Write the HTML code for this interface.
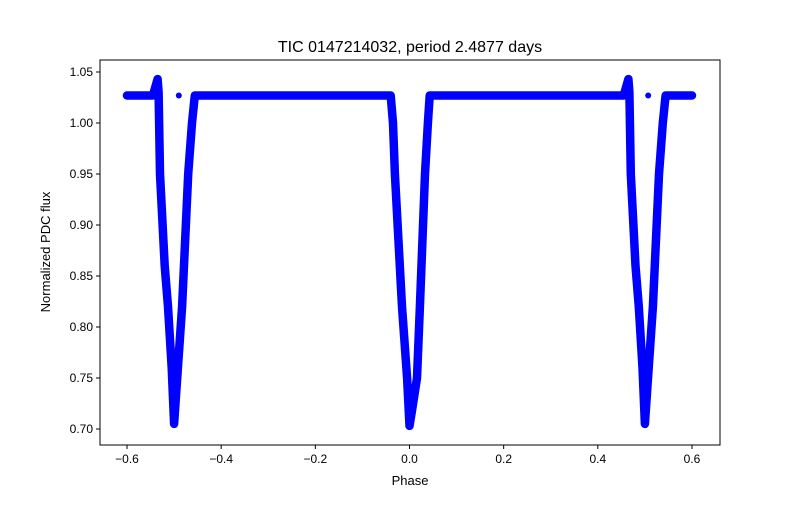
<!DOCTYPE html>
<html><head><meta charset="utf-8"><style>
body{margin:0;background:#fff}
svg text{font-family:"Liberation Sans","DejaVu Sans",sans-serif;fill:#000}
</style></head><body>
<svg id="chart" width="800" height="500" xmlns="http://www.w3.org/2000/svg">
<rect width="800" height="500" fill="#fff"/>
<g id="marks"></g>
<g id="axes"></g>
<text x="410" y="52" text-anchor="middle" font-size="16">TIC 0147214032, period 2.4877 days</text>
<text x="410" y="485" text-anchor="middle" font-size="13">Phase</text>
<text transform="translate(50,252) rotate(-90)" text-anchor="middle" font-size="13">Normalized PDC flux</text>
</svg>
<script>
const phase=[-0.6,-0.545,-0.537,-0.535,-0.533,-0.53,-0.52,-0.513,-0.505,-0.5,-0.495,-0.483,-0.47,-0.462,-0.456,-0.3,-0.1,-0.04,-0.035,-0.031,-0.016,-0.005,0,0.006,0.016,0.022,0.033,0.039,0.043,0.1,0.3,0.455,0.463,0.465,0.467,0.47,0.48,0.487,0.495,0.5,0.505,0.517,0.53,0.538,0.544,0.6];
const flux=[1.027,1.027,1.04,1.043,1.03,0.95,0.86,0.82,0.76,0.705,0.74,0.82,0.95,1.0,1.027,1.027,1.027,1.027,1.0,0.95,0.82,0.75,0.703,0.72,0.75,0.82,0.95,1.0,1.027,1.027,1.027,1.027,1.04,1.043,1.03,0.95,0.86,0.82,0.76,0.705,0.74,0.82,0.95,1.0,1.027,1.027];
const outPhase=[-0.49,0.507];
const outFlux=[1.027,1.027];
const xTicks=[-0.6,-0.4,-0.2,0.0,0.2,0.4,0.6];
const xTickLabels=["−0.6","−0.4","−0.2","0.0","0.2","0.4","0.6"];
const yTicks=[0.70,0.75,0.80,0.85,0.90,0.95,1.00,1.05];
const yTickLabels=["0.70","0.75","0.80","0.85","0.90","0.95","1.00","1.05"];
const L=100,R=720,T=60,B=445;
const xs=v=>409.5+v*470.8;
const ys=v=>72+(1.05-v)/0.05*51;
const NS="http://www.w3.org/2000/svg";
const marks=document.getElementById('marks'),axes=document.getElementById('axes');
function mk(t,a,p){const e=document.createElementNS(NS,t);for(const k in a)e.setAttribute(k,a[k]);p.appendChild(e);return e;}
const d=phase.map((p,i)=>(i?'L':'M')+xs(p).toFixed(1)+' '+ys(flux[i]).toFixed(1)).join(' ');
const path=mk('path',{d:d,fill:'none',stroke:'#0000ff','stroke-width':8.5,'stroke-linejoin':'round','stroke-linecap':'round'},marks);


outPhase.forEach((p,i)=>{const c=mk('circle',{cx:xs(p),cy:ys(outFlux[i]),r:3,fill:'#0000ff'},marks);

});
const fr=mk('rect',{x:L,y:T,width:R-L,height:B-T,fill:'none',stroke:'#000','stroke-width':1},axes);


xTicks.forEach((v,i)=>{const x=xs(v);mk('line',{x1:x,x2:x,y1:B,y2:B+4,stroke:'#000'},axes);
const t=mk('text',{x:x,y:B+18,'text-anchor':'middle','font-size':12},axes);t.textContent=xTickLabels[i];

});
yTicks.forEach((v,i)=>{const y=ys(v);mk('line',{x1:L-4,x2:L,y1:y,y2:y,stroke:'#000'},axes);
const t=mk('text',{x:L-7,y:y+4,'text-anchor':'end','font-size':12},axes);t.textContent=yTickLabels[i];

});
</script>
</body></html>
